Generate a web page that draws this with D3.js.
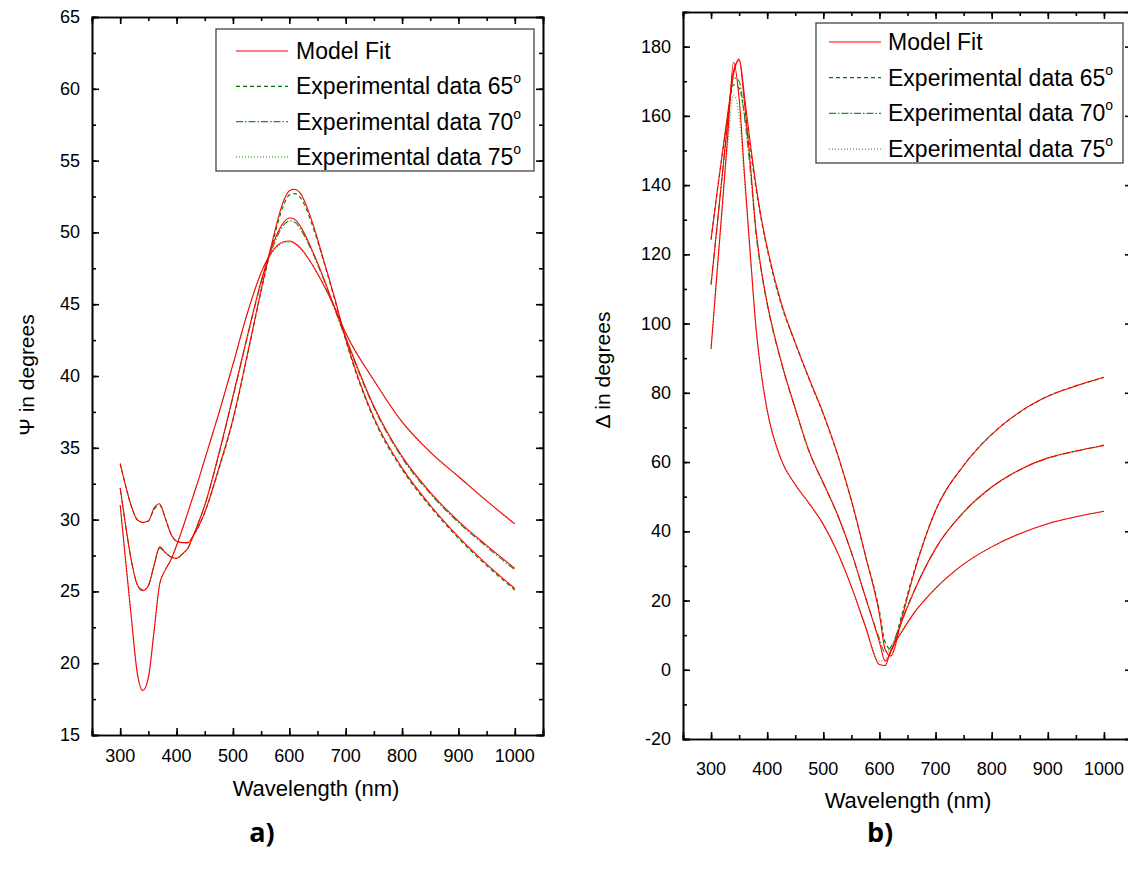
<!DOCTYPE html>
<html>
<head>
<meta charset="utf-8">
<script src="https://cdn.jsdelivr.net/npm/d3@7"></script>
<style>
  body { margin: 0; background: #fff; }
  svg { display: block; font-family: "Liberation Sans", Arial, sans-serif; }
</style>
</head>
<body>
<svg id="chart" width="1128" height="870"></svg>
<script>
// wavelengths (nm)
const psiWl = [300,310,320,330,340,350,360,370,380,390,400,410,420,430,440,450,475,500,525,550,570,590,600,610,620,640,660,680,700,750,800,850,900,950,1000];
const deltaWl = [300,310,320,330,340,350,360,370,380,390,400,425,450,475,500,525,550,575,600,610,620,640,660,700,750,800,850,900,950,1000];

// Psi, model fit (red)
const psiFitA = [31.0,27.0,23.1,19.4,18.1,19.0,22.2,25.5,26.5,27.2,28.2,29.3,30.5,31.7,32.9,34.2,37.4,40.8,44.3,47.2,48.7,49.35,49.4,49.25,48.9,47.8,46.4,44.8,43.0,39.7,36.8,34.7,33.0,31.3,29.7];
const psiFitB = [32.2,29.5,27.1,25.5,25.05,25.4,26.8,28.1,27.7,27.4,27.3,27.6,28.0,28.9,29.9,31.0,34.6,38.6,42.7,46.6,49.1,50.7,51.0,50.9,50.4,48.8,46.9,44.8,42.7,37.9,34.4,31.9,29.9,28.2,26.6];
const psiFitC = [33.9,32.3,30.9,30.0,29.8,29.9,30.8,31.1,30.1,29.0,28.5,28.4,28.4,28.9,29.6,30.5,33.6,37.0,41.4,46.0,49.4,52.2,52.9,53.0,52.7,50.8,48.2,45.5,42.6,37.1,33.6,31.0,28.8,26.9,25.2];
// Psi, experimental (green)
const psiExp65 = [33.9,32.3,30.9,30.0,29.8,29.9,30.7,31.0,30.1,29.0,28.5,28.4,28.4,28.9,29.6,30.5,33.5,36.9,41.3,45.9,49.2,51.9,52.6,52.7,52.4,50.6,48.1,45.4,42.5,37.0,33.5,30.9,28.7,26.8,25.1];
const psiExp70 = [32.2,29.5,27.1,25.5,25.1,25.4,26.8,28.0,27.7,27.4,27.3,27.6,28.0,28.9,29.9,31.0,34.5,38.5,42.6,46.5,48.9,50.5,50.8,50.7,50.2,48.7,46.8,44.7,42.6,37.8,34.3,31.8,29.8,28.1,26.5];
const psiExp75 = [31.0,27.0,23.1,19.4,18.1,19.0,22.2,25.5,26.5,27.2,28.2,29.3,30.5,31.7,32.9,34.2,37.4,40.8,44.3,47.2,48.6,49.25,49.3,49.2,48.85,47.8,46.4,44.8,43.0,39.7,36.8,34.7,33.0,31.3,29.7];

// Delta, model fit (red)
const dFitL = [92.7,113.5,134,155,175.5,165,142,120,99,85,75,60.7,53.5,48,42,34,24,12.5,1.5,1.2,5.5,11,16,23.5,30.5,35.5,39.3,42.2,44.2,45.8];
const dFitM = [111.3,127,143,159,173,176,163,146,127,115,106,89,75.5,63,54,45,34,21,8,2.5,5,14,22,35,45.5,52.8,57.8,61.2,63.2,64.8];
const dFitU = [124.3,137,149,161,172,176.5,165,152,140,130,122,106,94.5,84,74,62.5,49,33,16,6,4,15,27,46,59,68,74.5,79,82,84.5];
// Delta, experimental (green)
const dExp65 = [124.3,137,149,160,169,168,160,150,139,129.5,121.5,105.5,94.3,83.8,73.8,62.3,48.8,33,17,8,6,16,27.5,46,59,68,74.4,79,82,84.4];
const dExp70 = [111.3,127,143,158,171,170,159,144,126,114.5,105.5,88.8,75.3,62.8,53.8,44.8,33.8,21,9,5,6.5,14.5,22.2,35,45.5,52.7,57.7,61.1,63.1,64.9];
const dExp75 = [92.7,113,133,152,166,160,140,119,98.5,84.8,74.8,60.6,53.4,47.9,41.9,33.9,24,12.8,2.5,3,6.5,11.5,16.2,23.5,30.5,35.5,39.3,42.2,44.2,45.8];

const xTicks = [300,400,500,600,700,800,900,1000];
const legendLabels = ["Model Fit", "Experimental data 65", "Experimental data 70", "Experimental data 75"];

const svg = d3.select("#chart");
svg.append("rect").attr("width", 1128).attr("height", 870).attr("fill", "#fff");

const styles = {
  fit: { color: "#ff0000", dash: null, w: 1.1 },
  e65: { color: "#007a00", dash: "4,3", w: 1.1 },
  e70: { color: "#1f8f1f", dash: "7,2,1.5,2", w: 1.1 },
  e75: { color: "#4aa84a", dash: "1,2", w: 1.1 }
};

function drawPanel(cfg) {
  const g = svg.append("g");
  const x = d3.scaleLinear().domain([250, 1050]).range([cfg.left, cfg.right]);
  const y = d3.scaleLinear().domain(cfg.yDomain).range([cfg.bottom, cfg.top]);

  const line = ys => d3.line()
    .x((d, i) => x(cfg.wl[i]))
    .y(d => y(d))
    .curve(d3.curveMonotoneX)(ys);

  cfg.exp.forEach(s => {
    g.append("path").attr("d", line(s.data)).attr("fill", "none")
      .attr("stroke", styles[s.style].color)
      .attr("stroke-width", styles[s.style].w)
      .attr("stroke-dasharray", styles[s.style].dash);
  });
  cfg.fit.forEach(s => {
    g.append("path").attr("d", line(s)).attr("fill", "none")
      .attr("stroke", styles.fit.color).attr("stroke-width", styles.fit.w);
  });

  // axes, ticks pointing inward, on all four sides
  const xMinor = d3.range(250, 1051, 50);
  const yMinor = d3.range(cfg.yDomain[0], cfg.yDomain[1] + 0.001, cfg.yStep / 2);
  const axes = [
    [d3.axisTop(x), xTicks, xMinor, `translate(0,${cfg.bottom})`],
    [d3.axisBottom(x), xTicks, xMinor, `translate(0,${cfg.top})`],
    [d3.axisRight(y), cfg.yTicks, yMinor, `translate(${cfg.left},0)`],
    [d3.axisLeft(y), cfg.yTicks, yMinor, `translate(${cfg.right},0)`]
  ];
  axes.forEach(([ax, major, minor, tr]) => {
    const m = g.append("g").attr("transform", tr)
      .call(ax.tickValues(minor).tickSize(4).tickFormat(""));
    const a = g.append("g").attr("transform", tr)
      .call(ax.tickValues(major).tickSize(7).tickFormat(""));
    [a, m].forEach(s => {
      s.selectAll("path").attr("stroke", "#000").attr("stroke-width", 1.6);
      s.selectAll("line").attr("stroke", "#000").attr("stroke-width", 1.6);
    });
  });

  // tick labels
  g.selectAll("text.xt").data(xTicks).join("text")
    .attr("x", d => x(d)).attr("y", cfg.bottom + cfg.xLabOff)
    .attr("text-anchor", "middle").attr("font-size", 18).text(d => d);
  g.selectAll("text.yt").data(cfg.yTicks).join("text")
    .attr("x", cfg.left - 12).attr("y", d => y(d) + 6)
    .attr("text-anchor", "end").attr("font-size", 18).text(d => d);

  g.append("text").attr("x", cfg.xTitleX).attr("y", cfg.xTitleY)
    .attr("text-anchor", "middle").attr("font-size", 22).text("Wavelength (nm)");
  g.append("text")
    .attr("transform", `translate(${cfg.yTitleX},${cfg.yTitleY}) rotate(-90)`)
    .attr("text-anchor", "middle").attr("font-size", 21).text(cfg.yTitle);
  g.append("text").attr("x", cfg.capX).attr("y", 842)
    .attr("text-anchor", "middle").attr("font-size", 27).attr("font-weight", "bold")
    .attr("font-family", "'Open Sans', sans-serif").text(cfg.caption);

  // legend
  const lg = cfg.legend;
  g.append("rect").attr("x", lg.x).attr("y", lg.y).attr("width", lg.w).attr("height", lg.h)
    .attr("fill", "#fff").attr("stroke", "#444").attr("stroke-width", 1.3);
  const keys = ["fit", "e65", "e70", "e75"];
  legendLabels.forEach((lab, i) => {
    const ly = lg.y + lg.first + i * lg.gap;
    const st = styles[keys[i]];
    g.append("line").attr("x1", lg.x + lg.lx1).attr("x2", lg.x + lg.lx2)
      .attr("y1", ly).attr("y2", ly)
      .attr("stroke", st.color).attr("stroke-width", 1.2).attr("stroke-dasharray", st.dash);
    const t = g.append("text").attr("x", lg.x + lg.tx).attr("y", ly + 8).attr("font-size", 23);
    t.append("tspan").text(lab);
    if (i > 0) t.append("tspan").attr("font-size", 14).attr("dy", -11).text("o");
  });
}

drawPanel({
  left: 92, right: 543, top: 17, bottom: 735,
  yDomain: [15, 65], yTicks: d3.range(15, 66, 5), yStep: 5,
  wl: psiWl,
  fit: [psiFitA, psiFitB, psiFitC],
  exp: [{ data: psiExp65, style: "e65" }, { data: psiExp70, style: "e70" }, { data: psiExp75, style: "e75" }],
  xLabOff: 27,
  xTitleX: 316, xTitleY: 796, yTitleX: 34, yTitleY: 375, yTitle: "Ψ in degrees",
  capX: 262, caption: "a)",
  legend: { x: 216, y: 29, w: 318, h: 142, first: 22, gap: 35.3, lx1: 20, lx2: 72, tx: 80 }
});

drawPanel({
  left: 683, right: 1132, top: 12, bottom: 739,
  yDomain: [-20, 190], yTicks: d3.range(-20, 181, 20), yStep: 20,
  wl: deltaWl,
  fit: [dFitL, dFitM, dFitU],
  exp: [{ data: dExp65, style: "e65" }, { data: dExp70, style: "e70" }, { data: dExp75, style: "e75" }],
  xLabOff: 36,
  xTitleX: 908, xTitleY: 808, yTitleX: 610, yTitleY: 370, yTitle: "Δ in degrees",
  capX: 880, caption: "b)",
  legend: { x: 816, y: 23, w: 307, h: 140, first: 19, gap: 35.7, lx1: 13, lx2: 65, tx: 72 }
});
</script>
</body>
</html>
